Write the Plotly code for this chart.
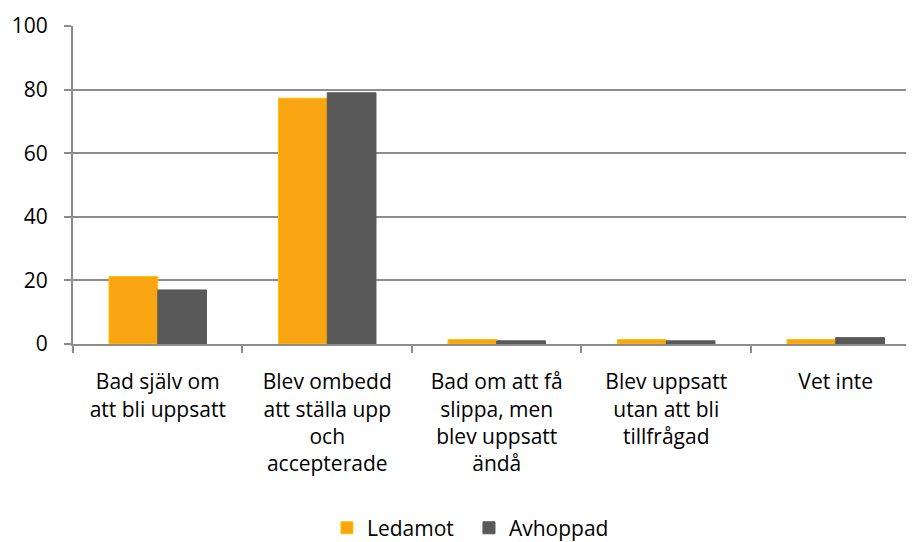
import plotly.graph_objects as go

kategorier = [
    "Bad själv om<br>att bli uppsatt",
    "Blev ombedd<br>att ställa upp<br>och<br>accepterade",
    "Bad om att få<br>slippa, men<br>blev uppsatt<br>ändå",
    "Blev uppsatt<br>utan att bli<br>tillfrågad",
    "Vet inte",
]
ledamot = [21.2, 77.3, 1.4, 1.4, 1.4]
avhoppad = [17.0, 79.0, 1.0, 1.0, 2.0]

fig = go.Figure()
fig.add_bar(
    x=kategorier, y=ledamot, name="Ledamot",
    marker=dict(color="#F9A512", line=dict(color="#FFC000", width=1)),
)
fig.add_bar(
    x=kategorier, y=avhoppad, name="Avhoppad",
    marker=dict(color="#595959", line=dict(color="#595959", width=1)),
)

# sidan har 8px marginal i body, så figuren görs lite mindre
fig.update_layout(
    width=906, height=534,
    barmode="group", bargap=0.425, bargroupgap=0,
    plot_bgcolor="white", paper_bgcolor="white",
    font=dict(family="Open Sans", size=21, color="#000000"),
    margin=dict(l=65, r=2, t=18, b=198, autoexpand=False),
    legend=dict(
        orientation="h", x=0.3027, xanchor="left", y=-0.579, yanchor="middle",
        font=dict(size=21), itemwidth=30, entrywidth=97,
    ),
    xaxis=dict(
        range=[-0.5, 4.45],
        showline=True, linecolor="#8c8c8c", linewidth=2, automargin=False,
        ticks="outside", tickson="boundaries", ticklen=7, tickcolor="#8c8c8c",
        tickwidth=2, showgrid=False, ticklabelstandoff=18,
    ),
    yaxis=dict(
        range=[0, 100], dtick=20, showline=True, linecolor="#8c8c8c",
        linewidth=2, gridcolor="#8c8c8c", gridwidth=2, ticks="outside",
        ticklen=7, tickcolor="#8c8c8c", tickwidth=2, zeroline=False,
        automargin=False, ticklabelstandoff=12,
    ),
)

fig.write_html("out.html")
